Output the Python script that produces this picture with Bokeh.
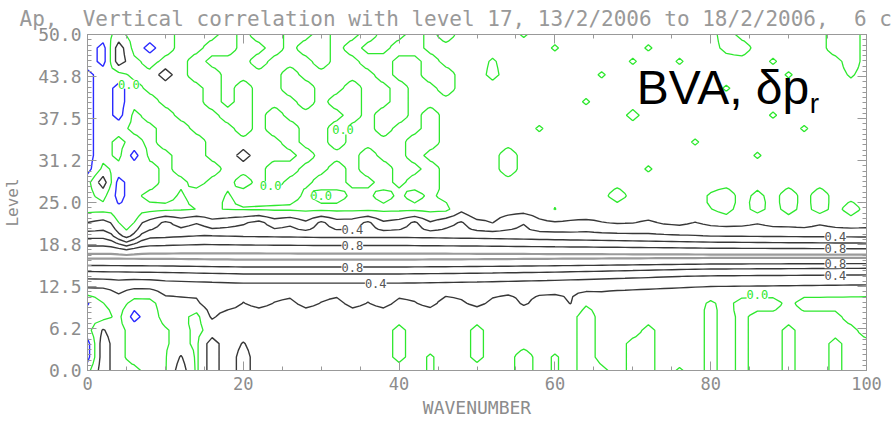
import numpy as np
from bokeh.plotting import figure
from bokeh.models import Range1d, LinearAxis, FixedTicker, Label
from bokeh.embed import file_html
from bokeh.resources import INLINE

# ---------------- data ----------------
wavenumbers = np.arange(0, 101)      # WAVENUMBER grid
levels = np.arange(0, 51)            # model level grid
ref_level = 17                       # correlation with level 17

# correlation profile of the main band vs. distance (levels) from level 17
prof_offset = [0, 1, 2, 3, 4, 5, 6, 7, 8, 9, 10]
prof_upper = [1.0, 0.90, 0.733, 0.567, 0.40, 0.30, 0.20, 0.12, 0.06, 0.03, 0.0]
prof_lower = [1.0, 0.92, 0.72, 0.53, 0.40, 0.30, 0.22, 0.14, 0.07, 0.03, 0.0]

# band width factor vs. wavenumber (above / below level 17)
upper_s_wn = [0, 3, 5, 7, 10, 15, 20, 30, 40, 50, 60, 70, 80, 90, 100]
upper_s = [0.95, 0.95, 0.6, 0.95, 1.0, 1.1, 1.05, 1.0, 1.0, 0.95, 0.88, 0.82, 0.75, 0.72, 0.70]
lower_s_wn = [0, 10, 20, 30, 40, 50, 60, 70, 80, 90, 100]
lower_s = [0.85, 0.9, 1.0, 1.0, 1.0, 0.95, 0.88, 0.8, 0.72, 0.7, 0.68]

# residual correlation map, read cell by cell (wavenumber step 2, level step 2),
# first row = level 0, last row = level 50
bg_codes = {'#': -0.28, '=': -0.16, '-': -0.07, ';': -0.035, ',': -0.015,
            '0': 0.0, '.': 0.05, '+': 0.14, 'p': 0.22, 'k': 0.32}
bg_rows = [
    "-k..-,k;k." "k........." "..,.....-." ",.-;.;;.,." ";.;..;..;." ".",   # 0
    "#k.--,p;k." "k........." ";.,..;..-." ",.-..;;..." ";.;..;..;." ".",   # 2
    "#k.--,.;k." "p........." ";....;...." "..-..;;..." ";.;..;..;." ".",   # 4
    "-p.--,.;.." ".........." ";....;...." "..-...;..." ";.;..;...." "-",   # 6
    "--.#-..-p." ".........." ".........." "..-......." ";.;......-" "-",   # 8
    "#-.==...pp" ".+.0+.,+.+" "0.+,.+.0+." ".+;.0..+.." ";.---.----" "-",   # 10
    "--0--00000" "0000000000" "0000000000" "0000000000" "0000000000" "0",   # 12
    "0000000000" "0000000000" "0000000000" "0000000000" "0000000000" "0",   # 14
    "0000000000" "0000000000" "0000000000" "0000000000" "0000000000" "0",   # 16
    "0000000000" "0000000000" "0000000000" "0000000000" "0000000000" "0",   # 18
    "00==000000" "0000000000" "0000000000" "0000000000" "0000000000" "0",   # 20
    "-0==0+0.-," ".+,.-+,0+-" ",+-.+,-.+0" ",0.0,0.0,." "0,0.00,.0," "0",   # 22
    "==========" "==========" "====.-...." "-.;......." ",-.-.-.-.-" ".",   # 24
    "-.#-..-..-" "....-..--." "-.-.,....." "....-....." ",-.;.-.-.." ".",   # 26
    "-k#--..-.." "-.-..--..-" ".--......." ".........." ".........." ".",   # 28
    "#.---.---." "..--..-.--" "..-....-.." "......,..." ".........." ".",   # 30
    "#-.#..--.." "k...-...-." ".-.....-.." ".........." "...,......" ".",   # 32
    "#-.-.---.." "...-..-..." ".--......." ".........," ".........." ".",   # 34
    "#--..--..." "-.--..-..-" "..-......," ".........." "......,..." ".",   # 36
    "#-#.--...-" "-.-....-.-" "-.-......." ".....;...." "....,....." ".",   # 38
    "#-#--...-." "-...-.--.." "-........." "..,......." ".........." ".",   # 40
    "#-#-....-." "-..--..-.." "-..-......" ".........." ".,........" ".",   # 42
    "#--..k.--." "...-.....-" "..--..;..." "...,......" ".....,...," ".",   # 44
    "-#k.-..-.." ".-...-..--" "..-...,..." ".....,..,." "....,....-" ".",   # 46
    "-#k-#-..--" "..-.--.-.." "--........" ",.....,..." ".;-.....--" ".",   # 48
    "--.---...-" ".--..-..-." ".-.-....,." ".........." ".-......--" ".",   # 50
]

contour_levels = [-0.2, 0.0, 0.2, 0.4, 0.6, 0.8, 0.96]
contour_colors = ["#2b2bff", "#2ee82e", "#383838", "#383838", "#383838", "#383838", "#9a9a9a"]
contour_widths = [1.4, 1.3, 1.4, 1.4, 1.4, 1.4, 2.2]

x_ticks = [0, 20, 40, 60, 80, 100]
x_minor = list(range(0, 101, 5))
y_ticks = [0, 6.25, 12.5, 18.75, 25, 31.25, 37.5, 43.75, 50]
y_tick_labels = ["0.0", "6.2", "12.5", "18.8", "25.0", "31.2", "37.5", "43.8", "50.0"]
y_minor = list(np.arange(0, 50.001, 6.25 / 8))

# header line (double spaces kept with a no-break space so they are not collapsed)
title_text = "Ap,\u00a0 Vertical correlation with level 17, 13/2/2006 to 18/2/2006,\u00a0 6 c"

# band contour labels: (wavenumber, contour value, side of level 17)
band_labels = [(34, 0.4, 1), (34, 0.8, 1), (34, 0.8, -1), (37, 0.4, -1),
               (96, 0.4, 1), (96, 0.8, 1), (96, 0.8, -1), (96, 0.4, -1)]
zero_labels = [(5.3, 42.6), (23.5, 27.5), (32.8, 35.8), (30.0, 26.0), (86.0, 11.3)]

# ---------------- build the field ----------------
bg2 = np.array([[bg_codes[ch] for ch in row] for row in bg_rows])
assert bg2.shape == (26, 51)
bgx = np.empty((26, 101))
bgx[:, 0::2] = bg2
bgx[:, 1::2] = 0.5 * (bg2[:, :-1] + bg2[:, 1:])
bg = np.empty((51, 101))
bg[0::2, :] = bgx
bg[1::2, :] = 0.5 * (bgx[:-1, :] + bgx[1:, :])

s_up = np.interp(wavenumbers, upper_s_wn, upper_s)
s_lo = np.interp(wavenumbers, lower_s_wn, lower_s)
d = (levels[:, None] - ref_level).astype(float) * np.ones((1, 101))
band_up = np.interp(np.abs(d) / s_up[None, :], prof_offset, prof_upper)
band_lo = np.interp(np.abs(d) / s_lo[None, :], prof_offset, prof_lower)
band = np.where(d >= 0, band_up, band_lo)
Z = band + bg

# ---------------- figure ----------------
GRAY = "#8c8c8c"
MONO = "DejaVu Sans Mono"

p = figure(width=892, height=423, x_range=Range1d(0, 100), y_range=Range1d(0, 50),
           output_backend="svg", toolbar_location=None,
           min_border_left=86, min_border_right=26, min_border_top=34, min_border_bottom=53)
p.xgrid.visible = False
p.ygrid.visible = False
p.outline_line_color = "#999999"
p.background_fill_color = "white"
p.border_fill_color = "white"

p.title.text = title_text
p.title.text_font = MONO
p.title.text_font_size = "21px"
p.title.text_font_style = "normal"
p.title.text_color = "#999999"
p.title.align = "left"
p.title.offset = -68
p.title.standoff = 7

p.contour(x=wavenumbers, y=levels, z=Z, levels=contour_levels,
          line_color=contour_colors, line_width=contour_widths)


def style_axis(ax, labels=True):
    ax.axis_line_color = "#999999"
    ax.major_tick_line_color = "#999999"
    ax.minor_tick_line_color = "#999999"
    ax.major_tick_in = 9
    ax.major_tick_out = 0
    ax.minor_tick_in = 4
    ax.minor_tick_out = 0
    ax.major_label_text_font = MONO
    if labels:
        ax.major_label_text_color = GRAY
        ax.major_label_text_font_size = "17px"
        ax.major_label_standoff = 6
    else:
        ax.major_label_text_color = None
        ax.major_label_text_font_size = "1px"
        ax.major_label_standoff = 0


xt = FixedTicker(ticks=x_ticks, minor_ticks=x_minor)
yt = FixedTicker(ticks=y_ticks, minor_ticks=y_minor)
y_over = {t: s for t, s in zip(y_ticks, y_tick_labels)}

xa = p.xaxis[0]
xa.ticker = xt
style_axis(xa)
xa.axis_label = "WAVENUMBER"
xa.axis_label_text_font = MONO
xa.axis_label_text_font_size = "18px"
xa.axis_label_text_font_style = "normal"
xa.axis_label_text_color = GRAY
xa.axis_label_standoff = 4

ya = p.yaxis[0]
ya.ticker = yt
ya.major_label_overrides = y_over
style_axis(ya)
ya.major_label_text_font_size = "18px"
ya.axis_label = "Level"
ya.axis_label_text_font = MONO
ya.axis_label_text_font_size = "16px"
ya.axis_label_text_font_style = "normal"
ya.axis_label_text_color = GRAY
ya.axis_label_standoff = 13

ra = LinearAxis(ticker=FixedTicker(ticks=y_ticks, minor_ticks=y_minor))
style_axis(ra, labels=False)
p.add_layout(ra, "right")
ta = LinearAxis(ticker=FixedTicker(ticks=x_ticks, minor_ticks=x_minor))
style_axis(ta, labels=False)
p.add_layout(ta, "above")


def crossing(w, v, side):
    col = Z[:, w]
    i = ref_level
    while 0 < i + side < len(levels):
        j = i + side
        if col[j] < v <= col[i]:
            return levels[i] + side * (col[i] - v) / (col[i] - col[j])
        i = j
    return None


for w, v, side in band_labels:
    yy = crossing(w, v, side)
    if yy is None:
        continue
    p.add_layout(Label(x=w, y=yy, text=f"{v:.1f}", text_font=MONO, text_font_size="12px",
                       text_color="#555555", text_align="center", text_baseline="middle",
                       background_fill_color="white"))

for w, lv in zero_labels:
    p.add_layout(Label(x=w, y=lv, text="0.0", text_font=MONO, text_font_size="12px",
                       text_color="#2ee82e", text_align="center", text_baseline="middle",
                       background_fill_color="white"))

# panel tag
p.add_layout(Label(x=70.5, y=42.1, text="BVA, \u03b4p", text_font="Liberation Sans",
                   text_font_size="48px", text_color="black", text_align="left",
                   text_baseline="alphabetic"))
p.add_layout(Label(x=92.7, y=39.8, text="r", text_font="Liberation Sans",
                   text_font_size="28px", text_color="black", text_align="left",
                   text_baseline="alphabetic"))

open("out.html", "w").write(file_html(p, INLINE))
